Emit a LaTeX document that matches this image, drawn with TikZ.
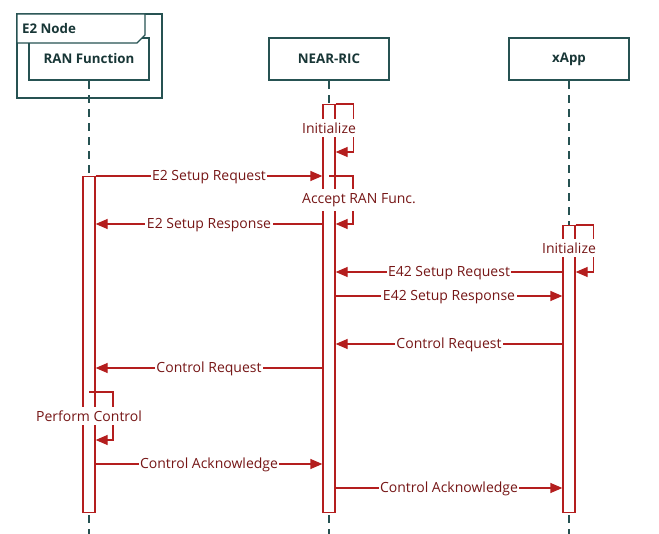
\documentclass[tikz,border=0pt]{standalone}
\usepackage{fontspec}
\setmainfont{Open Sans}
\usetikzlibrary{arrows.meta,calc}
\definecolor{teal1}{RGB}{38,82,82}
\definecolor{tealtxt}{RGB}{24,54,54}
\definecolor{msgred}{RGB}{180,30,30}
\definecolor{msgtxt}{RGB}{118,22,22}
\tikzset{
 actor/.style={draw=teal1, line width=2.4pt, fill=white, minimum width=120pt, minimum height=42pt, inner sep=0pt, font=\fontsize{13.3}{15}\selectfont\bfseries, text=tealtxt},
 lifeline/.style={draw=teal1, line width=1.1pt, dash pattern=on 8pt off 6pt},
 actbar/.style={draw=msgred, line width=1.3pt, fill=white, minimum width=12pt, inner sep=0pt, anchor=north},
 msg/.style={draw=msgred, line width=1.3pt, -{Triangle[length=12pt,width=10pt]}},
 lbl/.style={fill=white, text=msgtxt, font=\fontsize{14}{16}\selectfont, inner xsep=1.5pt, inner ysep=4pt},
 framebox/.style={draw=teal1, line width=1.1pt},
}
\begin{document}
\begin{tikzpicture}[x=1pt,y=-1pt]
\useasboundingbox (0,0) rectangle (659,534);
\coordinate (bottom) at (0,534);
% E2 Node frame
\draw[framebox] (17,14) rectangle (162,98);
% actors
\node[actor] (ran) at (89,59) {RAN Function};
\node[actor] (ric) at (329,59) {NEAR-RIC};
\node[actor] (xapp) at (569,59) {xApp};
% frame tab
\draw[framebox, fill=white] (17,14) -- (145,14) -- (145,35) -- (137,43) -- (17,43) -- cycle;
\node[anchor=west, font=\fontsize{13.3}{15}\selectfont\bfseries, text=tealtxt, inner sep=0pt] (e2node) at (22,29) {E2 Node};
% lifelines
\draw[lifeline] (ran.south) -- (ran.south |- bottom);
\draw[lifeline] (ric.south) -- (ric.south |- bottom);
\draw[lifeline] (xapp.south) -- (xapp.south |- bottom);
% activation bars
\node[actbar, minimum height=336pt] (ranbar) at (89,176) {};
\node[actbar, minimum height=408pt] (ricbar) at (329,104) {};
\node[actbar, minimum height=287pt] (xappbar) at (569,225) {};
% rows
\coordinate (r152) at (0,152);
\coordinate (r176) at (0,176);
\coordinate (r224) at (0,224);
\coordinate (r272) at (0,272);
\coordinate (r296) at (0,296);
\coordinate (r344) at (0,344);
\coordinate (r368) at (0,368);
\coordinate (r392) at (0,392);
\coordinate (r440) at (0,440);
\coordinate (r464) at (0,464);
\coordinate (r488) at (0,488);
% self messages
\draw[msg] (ricbar.north east) -- ++(18,0) |- (ricbar.east |- r152);
\draw[msg] (ricbar.north |- r176) -- ++(24,0) |- (ricbar.east |- r224);
\draw[msg] (xappbar.north east) -- ++(18,0) |- (xappbar.east |- r272);
\draw[msg] (ranbar.north |- r392) -- ++(24,0) |- (ranbar.east |- r440);
\node[lbl] (init1) at (329,128) {Initialize};
\node[lbl] (accept) at (359,200) {Accept RAN Func.};
\node[lbl] (init2) at (569,248) {Initialize};
\node[lbl] (perform) at (89,416) {Perform Control};
% messages
\draw[msg] (ranbar.east |- r176) -- node[lbl, yshift=-1pt] (m1) {E2 Setup Request} (ricbar.west |- r176);
\draw[msg] (ricbar.west |- r224) -- node[lbl, yshift=-1pt] (m2) {E2 Setup Response} (ranbar.east |- r224);
\draw[msg] (xappbar.west |- r272) -- node[lbl, yshift=-1pt] (m3) {E42 Setup Request} (ricbar.east |- r272);
\draw[msg] (ricbar.east |- r296) -- node[lbl, yshift=-1pt] (m4) {E42 Setup Response} (xappbar.west |- r296);
\draw[msg] (xappbar.west |- r344) -- node[lbl, yshift=-1pt] (m5) {Control Request} (ricbar.east |- r344);
\draw[msg] (ricbar.west |- r368) -- node[lbl, yshift=-1pt] (m6) {Control Request} (ranbar.east |- r368);
\draw[msg] (ranbar.east |- r464) -- node[lbl, yshift=-1pt] (m7) {Control Acknowledge} (ricbar.west |- r464);
\draw[msg] (ricbar.east |- r488) -- node[lbl, yshift=-1pt] (m8) {Control Acknowledge} (xappbar.west |- r488);
\end{tikzpicture}
\end{document}
